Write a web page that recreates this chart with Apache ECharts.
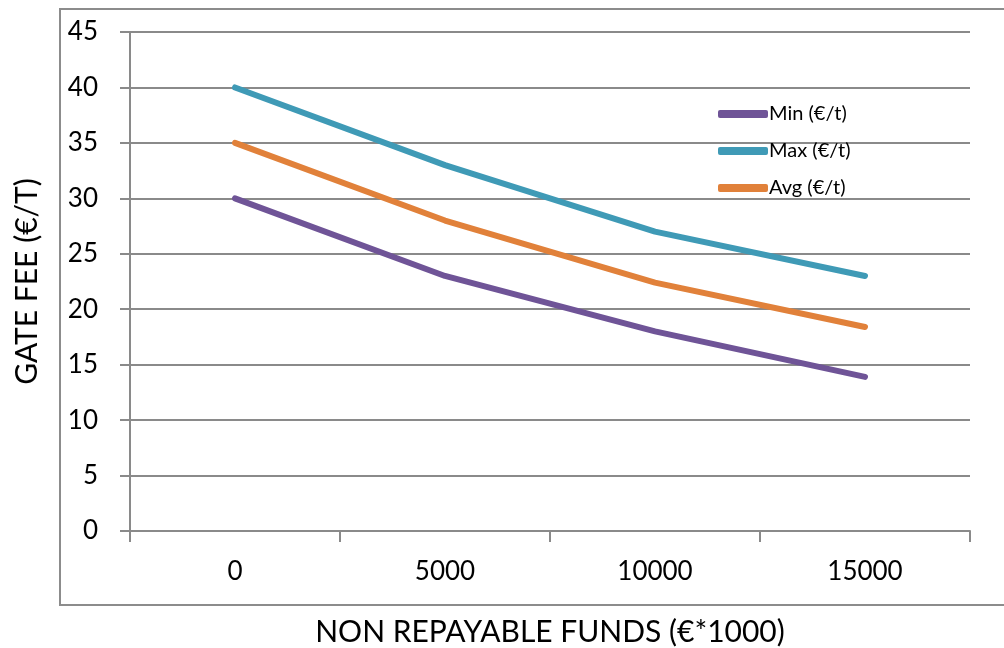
<!DOCTYPE html>
<html>
<head>
<meta charset="utf-8">
<script src="https://cdn.jsdelivr.net/npm/echarts@6/dist/echarts.min.js"></script>
<style>html,body{margin:0;padding:0;background:#fff}#c{width:1004px;height:648px}</style>
</head>
<body>
<div id="c"></div>
<script>
const categories = ['0', '5000', '10000', '15000'];
const minValues = [30, 23, 18, 13.9];
const maxValues = [40, 33, 27, 23.0];
const avgValues = [35, 28, 22.4, 18.4];
const seriesNames = ['Min (€/t)', 'Max (€/t)', 'Avg (€/t)'];
const colors = ['#6f5497', '#3f9ab6', '#e1813a'];

const chart = echarts.init(document.getElementById('c'));
const font = 'Lato, "Open Sans", sans-serif';
const gray = '#8a8a8a';
chart.setOption({
  animation: false,
  backgroundColor: '#fff',
  graphic: [{
    type: 'rect', shape: { x: 60, y: 9, width: 1000, height: 596 },
    style: { fill: 'none', stroke: '#8c8c8c', lineWidth: 2 }, z: -1
  }],
  grid: { left: 130, right: 34, top: 32, bottom: 117, containLabel: false, outerBoundsMode: 'none' },
  legend: {
    orient: 'vertical', left: 713, top: 99, itemGap: 17,
    itemWidth: 50, itemHeight: 8, icon: 'roundRect',
    textStyle: { fontFamily: font, fontSize: 20, color: '#000', padding: [0, 0, 0, -4] },
    data: seriesNames
  },
  xAxis: {
    type: 'category', data: categories, boundaryGap: true,
    name: 'NON REPAYABLE FUNDS (€*1000)', nameLocation: 'middle', nameGap: 86,
    nameTextStyle: { fontFamily: font, fontSize: 30, color: '#000' },
    axisLine: { lineStyle: { color: gray, width: 2 } },
    axisTick: { show: true, length: 11, lineStyle: { color: gray, width: 2 } },
    axisLabel: { fontFamily: font, fontSize: 26, color: '#000', margin: 28 }
  },
  yAxis: {
    type: 'value', min: 0, max: 45, interval: 5,
    name: 'GATE FEE (€/T)', nameLocation: 'middle', nameGap: 88,
    nameTextStyle: { fontFamily: font, fontSize: 30, color: '#000' },
    axisLine: { show: true, lineStyle: { color: gray, width: 2 } },
    axisTick: { show: true, length: 10, lineStyle: { color: gray, width: 2 } },
    axisLabel: { fontFamily: font, fontSize: 26, color: '#000', margin: 32 },
    splitLine: { lineStyle: { color: gray, width: 2 } }
  },
  series: [
    { name: seriesNames[0], type: 'line', data: minValues, showSymbol: false, symbol: 'none',
      lineStyle: { width: 6, color: colors[0], cap: 'round' }, itemStyle: { color: colors[0] } },
    { name: seriesNames[1], type: 'line', data: maxValues, showSymbol: false, symbol: 'none',
      lineStyle: { width: 6, color: colors[1], cap: 'round' }, itemStyle: { color: colors[1] } },
    { name: seriesNames[2], type: 'line', data: avgValues, showSymbol: false, symbol: 'none',
      lineStyle: { width: 6, color: colors[2], cap: 'round' }, itemStyle: { color: colors[2] } }
  ]
});
</script>
</body>
</html>
